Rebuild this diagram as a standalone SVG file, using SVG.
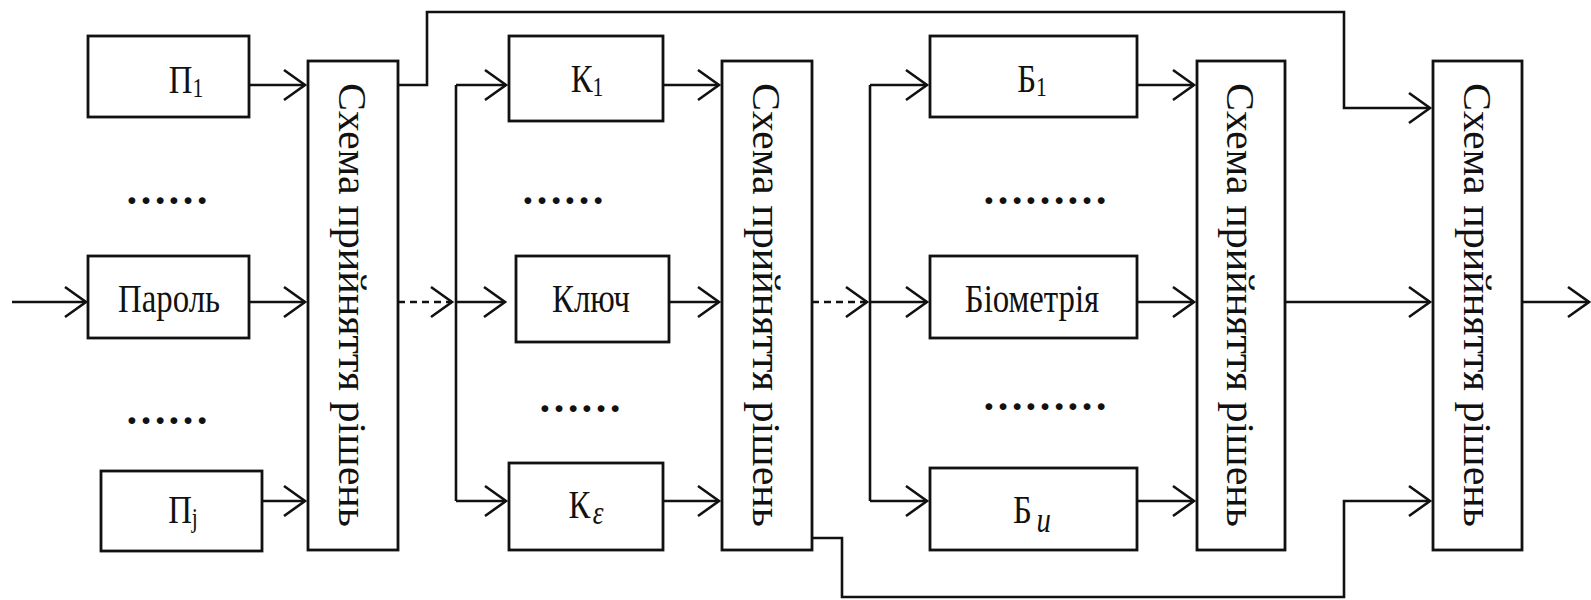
<svg xmlns="http://www.w3.org/2000/svg" width="1591" height="600" viewBox="0 0 1591 600">
<defs>
<marker id="arr" markerUnits="userSpaceOnUse" markerWidth="26" markerHeight="36" viewBox="-23 -18 26 36" refX="0" refY="0" orient="auto">
<path d="M-21,-15 L0,0 L-21,15" fill="none" stroke="#111" stroke-width="2.6"/>
</marker>
<style>
.box{fill:#fff;stroke:#111;stroke-width:2.8}
.ln{fill:none;stroke:#111;stroke-width:2.6}
.ar{marker-end:url(#arr)}
.ds{stroke-dasharray:7 5}
.t{font-family:"Liberation Serif","Times New Roman",serif;font-size:41px;fill:#111;text-anchor:middle}
.sub{font-size:27px}
.dots{font-family:"Liberation Serif","Times New Roman",serif;font-size:42px;font-weight:bold;fill:#111;text-anchor:middle}
.vt{font-family:"Liberation Serif","Times New Roman",serif;font-size:41px;fill:#111;text-anchor:middle}
</style>
</defs>
<rect width="1591" height="600" fill="#fff"/>

<g id="connectors">
<path class="ln ar" d="M12,302 H86"/>
<path class="ln ar" d="M249,85 H305"/>
<path class="ln ar" d="M249,302 H305"/>
<path class="ln ar" d="M262,501 H305"/>
<path class="ln ar" d="M398,85 H427 V12 H1344 V108 H1430"/>
<path class="ln ar ds" d="M398,302 H452"/>
<path class="ln" d="M456,85 V501"/>
<path class="ln ar" d="M456,85 H506"/>
<path class="ln ar" d="M456,302 H505"/>
<path class="ln ar" d="M456,501 H506"/>
<path class="ln ar" d="M663,85 H719"/>
<path class="ln ar" d="M669,302 H719"/>
<path class="ln ar" d="M663,501 H719"/>
<path class="ln ar ds" d="M812,302 H867"/>
<path class="ln" d="M870,85 V501"/>
<path class="ln ar" d="M870,85 H927"/>
<path class="ln ar" d="M870,302 H927"/>
<path class="ln ar" d="M870,501 H927"/>
<path class="ln ar" d="M1137,85 H1194"/>
<path class="ln ar" d="M1137,302 H1194"/>
<path class="ln ar" d="M1137,501 H1194"/>
<path class="ln ar" d="M812,538 H842 V597 H1344 V501 H1430"/>
<path class="ln ar" d="M1285,302 H1430"/>
<path class="ln ar" d="M1522,302 H1589"/>
</g>

<g id="p1"><rect class="box" x="88" y="36" width="161" height="81"/>
<g transform="translate(186,93) scale(0.8 1)"><text class="t">П<tspan class="sub" dy="4">1</tspan></text></g></g>
<text class="dots" x="167" y="204">……</text>
<g id="parol"><rect class="box" x="88" y="256" width="161" height="82"/>
<g transform="translate(169,312) scale(0.8 1)"><text class="t">Пароль</text></g></g>
<text class="dots" x="167" y="424">……</text>
<g id="pj"><rect class="box" x="101" y="471" width="161" height="80"/>
<g transform="translate(183,523) scale(0.8 1)"><text class="t">П<tspan class="sub" dy="4">j</tspan></text></g></g>

<g id="s1"><rect class="box" x="308" y="61" width="90" height="489"/>
<text class="vt" transform="translate(339,305) rotate(90)" textLength="444" lengthAdjust="spacingAndGlyphs">Схема прийняття рішень</text></g>

<g id="k1"><rect class="box" x="509" y="36" width="154" height="85"/>
<g transform="translate(587,92) scale(0.8 1)"><text class="t">К<tspan class="sub" dy="4">1</tspan></text></g></g>
<text class="dots" x="563" y="204">……</text>
<g id="kluch"><rect class="box" x="516" y="256" width="153" height="86"/>
<g transform="translate(591,312) scale(0.8 1)"><text class="t">Ключ</text></g></g>
<text class="dots" x="580" y="412">……</text>
<g id="ke"><rect class="box" x="509" y="463" width="154" height="87"/>
<g transform="translate(586,518) scale(0.8 1)"><text class="t">К<tspan dx="3" dy="6" font-size="34" font-style="italic">ε</tspan></text></g></g>

<g id="s2"><rect class="box" x="722" y="61" width="90" height="489"/>
<text class="vt" transform="translate(753,305) rotate(90)" textLength="444" lengthAdjust="spacingAndGlyphs">Схема прийняття рішень</text></g>

<g id="b1"><rect class="box" x="930" y="36" width="207" height="81"/>
<g transform="translate(1032,92) scale(0.8 1)"><text class="t">Б<tspan class="sub" dy="4">1</tspan></text></g></g>
<text class="dots" x="1045" y="204">………</text>
<g id="biom"><rect class="box" x="930" y="256" width="207" height="82"/>
<g transform="translate(1032,312) scale(0.8 1)"><text class="t">Біометрія</text></g></g>
<text class="dots" x="1045" y="410">………</text>
<g id="bu"><rect class="box" x="930" y="468" width="207" height="82"/>
<g transform="translate(1032,523) scale(0.8 1)"><text class="t">Б<tspan dx="6" dy="9" font-size="36" font-style="italic">u</tspan></text></g></g>

<g id="s3"><rect class="box" x="1197" y="61" width="88" height="489"/>
<text class="vt" transform="translate(1227,305) rotate(90)" textLength="444" lengthAdjust="spacingAndGlyphs">Схема прийняття рішень</text></g>

<g id="s4"><rect class="box" x="1433" y="61" width="89" height="489"/>
<text class="vt" transform="translate(1464,305) rotate(90)" textLength="444" lengthAdjust="spacingAndGlyphs">Схема прийняття рішень</text></g>
</svg>
